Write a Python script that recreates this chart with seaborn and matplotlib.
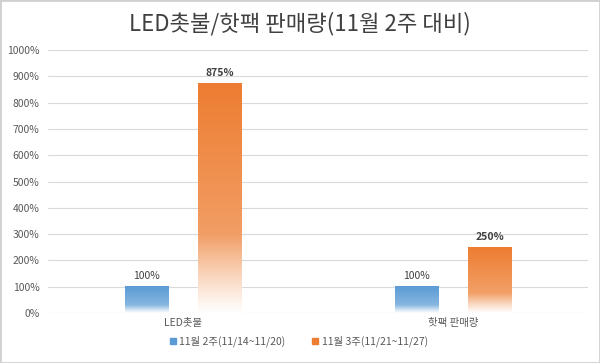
import matplotlib
matplotlib.use("Agg")
import matplotlib.pyplot as plt
import seaborn as sns
import pandas as pd
import numpy as np
from matplotlib.colors import to_rgb
from matplotlib.patches import Rectangle
from matplotlib.lines import Line2D

categories = ["LED촛불", "핫팩 판매량"]
series_names = ["11월 2주(11/14~11/20)", "11월 3주(11/21~11/27)"]
week2 = [100, 100]
week3 = [875, 250]
colors = ["#5B9BD5", "#ED7D31"]
yticks = list(range(0, 1001, 100))

df = pd.DataFrame({
    "cat": categories * 2,
    "series": [series_names[0]] * 2 + [series_names[1]] * 2,
    "val": week2 + week3,
})

sns.set_theme(style="white")
plt.rcParams['font.family'] = ['Noto Sans CJK KR', 'DejaVu Sans']

fig = plt.figure(figsize=(6.0, 3.63), dpi=100)
ax = fig.add_axes([0.08, 0.138, 0.9, 0.724])

sns.barplot(data=df, x="cat", y="val", hue="series", palette=colors,
            saturation=1, width=0.545, gap=0.41, ax=ax, legend=True, zorder=3)

ax.set_ylim(0, 1000)
ax.set_xlim(-0.5, 1.5)
ax.set_yticks(yticks)
ax.set_yticklabels([f"{t}%" for t in yticks], color="#595959", fontsize=7.5)
ax.tick_params(axis="x", colors="#595959", labelsize=7.5, length=0, pad=4)
ax.tick_params(axis="y", length=0, pad=6)
ax.set_xlabel("")
ax.set_ylabel("")
for s in ax.spines.values():
    s.set_visible(False)
ax.yaxis.grid(True, color="#d9d9d9", linewidth=0.8, zorder=0)
ax.set_axisbelow(True)

# gradient fills
patches = [p for p in ax.patches if isinstance(p, Rectangle) and p.get_height() > 0]
for p in patches:
    fc = p.get_facecolor()
    x0, y0 = p.get_x(), p.get_y()
    w, h = p.get_width(), p.get_height()
    rgb = np.array(fc[:3])
    n = 256
    frac = np.linspace(0, 1, n)  # 0 bottom, 1 top
    absy = frac * h
    a = 0.62 + 0.38 * frac
    fade = np.clip(absy / (0.3 * h if h < 400 else 300.0), 0, 1)
    alpha = a * fade
    img = np.ones((n, 1, 3)) * (1 - alpha[:, None, None]) + rgb[None, None, :] * alpha[:, None, None]
    p.set_facecolor("none")
    p.set_edgecolor("none")
    ax.imshow(img[::-1], extent=[x0, x0 + w, y0, y0 + h], aspect="auto",
              origin="upper", zorder=3, interpolation="bilinear")

ax.set_xlim(-0.5, 1.5)
ax.set_ylim(0, 1000)

# value labels
offs = [-0.1363, 0.1363]
for i, cat in enumerate(categories):
    ax.text(i + offs[0], week2[i] + 20, f"{week2[i]}%", ha="center", va="bottom",
            fontsize=7.5, color="#404040")
    ax.text(i + offs[1], week3[i] + 20, f"{week3[i]}%", ha="center", va="bottom",
            fontsize=7.5, color="#404040", fontweight="bold")

leg = ax.get_legend()
leg.remove()
handles = [Line2D([], [], marker="s", linestyle="none", markersize=4,
                  markerfacecolor=c, markeredgecolor=c) for c in colors]
fig.legend(handles, series_names, loc="center", bbox_to_anchor=(0.497, 0.06),
           ncol=2, frameon=False, fontsize=7.5, handletextpad=0.2,
           columnspacing=2.5, labelcolor="#595959", handlelength=0.8)

fig.text(0.5, 0.935, "LED촛불/핫팩 판매량(11월 2주 대비)", ha="center", va="center",
         fontsize=16, color="#404040")

fig.patches.append(Rectangle((0, 0), 1, 1, transform=fig.transFigure,
                             fill=False, edgecolor="#d0d0d0", linewidth=2))

fig.savefig("out.png", dpi=100, facecolor="white")
